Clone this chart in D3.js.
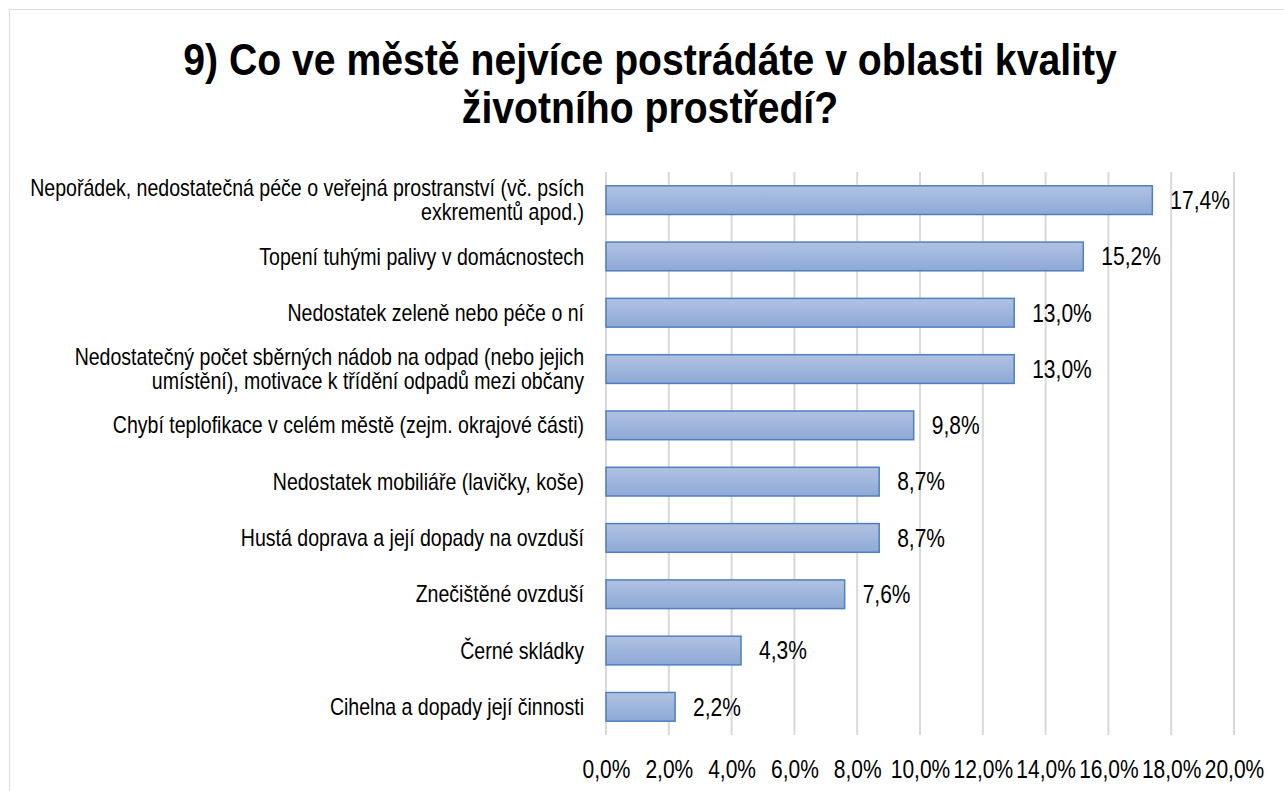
<!DOCTYPE html>
<html>
<head>
<meta charset="utf-8">
<script src="https://cdn.jsdelivr.net/npm/d3@7"></script>
<style>
  body { margin: 0; background: #fff; }
  text { font-family: "Liberation Sans", Arial, sans-serif; fill: #000; }
</style>
</head>
<body>
<svg width="1284" height="791"></svg>
<script>
const titleLines = ["9) Co ve městě nejvíce postrádáte v oblasti kvality", "životního prostředí?"];
const categories = [
  ["Nepořádek, nedostatečná péče o veřejná prostranství (vč. psích", "exkrementů apod.)"],
  ["Topení tuhými palivy v domácnostech"],
  ["Nedostatek zeleně nebo péče o ní"],
  ["Nedostatečný počet sběrných nádob na odpad (nebo jejich", "umístění), motivace k třídění odpadů mezi občany"],
  ["Chybí teplofikace v celém městě (zejm. okrajové části)"],
  ["Nedostatek mobiliáře (lavičky, koše)"],
  ["Hustá doprava a její dopady na ovzduší"],
  ["Znečištěné ovzduší"],
  ["Černé skládky"],
  ["Cihelna a dopady její činnosti"]
];
const values = [17.4, 15.2, 13.0, 13.0, 9.8, 8.7, 8.7, 7.6, 4.3, 2.2];
const ticks = [0, 2, 4, 6, 8, 10, 12, 14, 16, 18, 20];

const svg = d3.select("svg");
const fmt = v => v.toFixed(1).replace(".", ",") + "%";

// narrow look: the original uses a condensed face
const sxTitle = 0.89, sxText = 0.85, sxNum = 0.84;

svg.append("rect")
  .attr("x", 9.5).attr("y", 9.5).attr("width", 1300).attr("height", 800)
  .attr("fill", "#fff").attr("stroke", "#d9d9d9");

const defs = svg.append("defs");
const grad = defs.append("linearGradient").attr("id", "barGrad")
  .attr("x1", 0).attr("y1", 0).attr("x2", 0).attr("y2", 1);
grad.append("stop").attr("offset", "0%").attr("stop-color", "#b0c2e2");
grad.append("stop").attr("offset", "100%").attr("stop-color", "#8ea9d6");

const x = d3.scaleLinear().domain([0, 20]).range([606, 1234]);
const y = d3.scaleBand().domain(d3.range(values.length)).range([172, 735]).paddingInner(0.49).paddingOuter(0.245);

// title
svg.append("g").selectAll("text").data(titleLines).enter().append("text")
  .attr("transform", (d, i) => `translate(650,${75 + i * 48}) scale(${sxTitle},1)`)
  .attr("text-anchor", "middle")
  .style("font-size", "44px").style("font-weight", "bold")
  .text(d => d);

// grid
svg.append("g").selectAll("line").data(ticks).enter().append("line")
  .attr("x1", d => x(d)).attr("x2", d => x(d))
  .attr("y1", 172).attr("y2", 735)
  .attr("stroke", "#d9d9d9").attr("stroke-width", 2);

// axis
const axis = d3.axisBottom(x).tickValues(ticks).tickSize(0).tickPadding(0)
  .tickFormat(d => fmt(d));
const ax = svg.append("g").attr("transform", "translate(0,778)").call(axis);
ax.select(".domain").remove();
ax.selectAll("text")
  .attr("y", 0).attr("dy", 0)
  .attr("transform", `scale(${sxNum},1)`)
  .style("font-size", "25px").style("font-family", "'Liberation Sans', Arial, sans-serif")
  .attr("fill", "#000");

// bars
svg.append("g").selectAll("rect").data(values).enter().append("rect")
  .attr("x", x(0))
  .attr("y", (d, i) => y(i))
  .attr("width", d => x(d) - x(0))
  .attr("height", y.bandwidth())
  .attr("fill", "url(#barGrad)")
  .attr("stroke", "#4f7fbf").attr("stroke-width", 1.5);

// value labels
svg.append("g").selectAll("text").data(values).enter().append("text")
  .attr("transform", (d, i) => `translate(${x(d) + 18},${y(i) + y.bandwidth() / 2}) scale(${sxNum},1)`)
  .attr("dy", "0.35em")
  .style("font-size", "25px")
  .text(d => fmt(d));

// category labels
const cat = svg.append("g").selectAll("text").data(categories).enter().append("text")
  .attr("transform", (d, i) => `translate(584,${y(i) + y.bandwidth() / 2}) scale(${sxText},1)`)
  .attr("text-anchor", "end")
  .style("font-size", "23px");
cat.selectAll("tspan").data(d => d.map((t, j) => ({t, j, n: d.length})))
  .enter().append("tspan")
  .attr("x", 0)
  .attr("y", d => (d.j - (d.n - 1) / 2) * 24.5)
  .attr("dy", "0.35em")
  .text(d => d.t);
</script>
</body>
</html>
